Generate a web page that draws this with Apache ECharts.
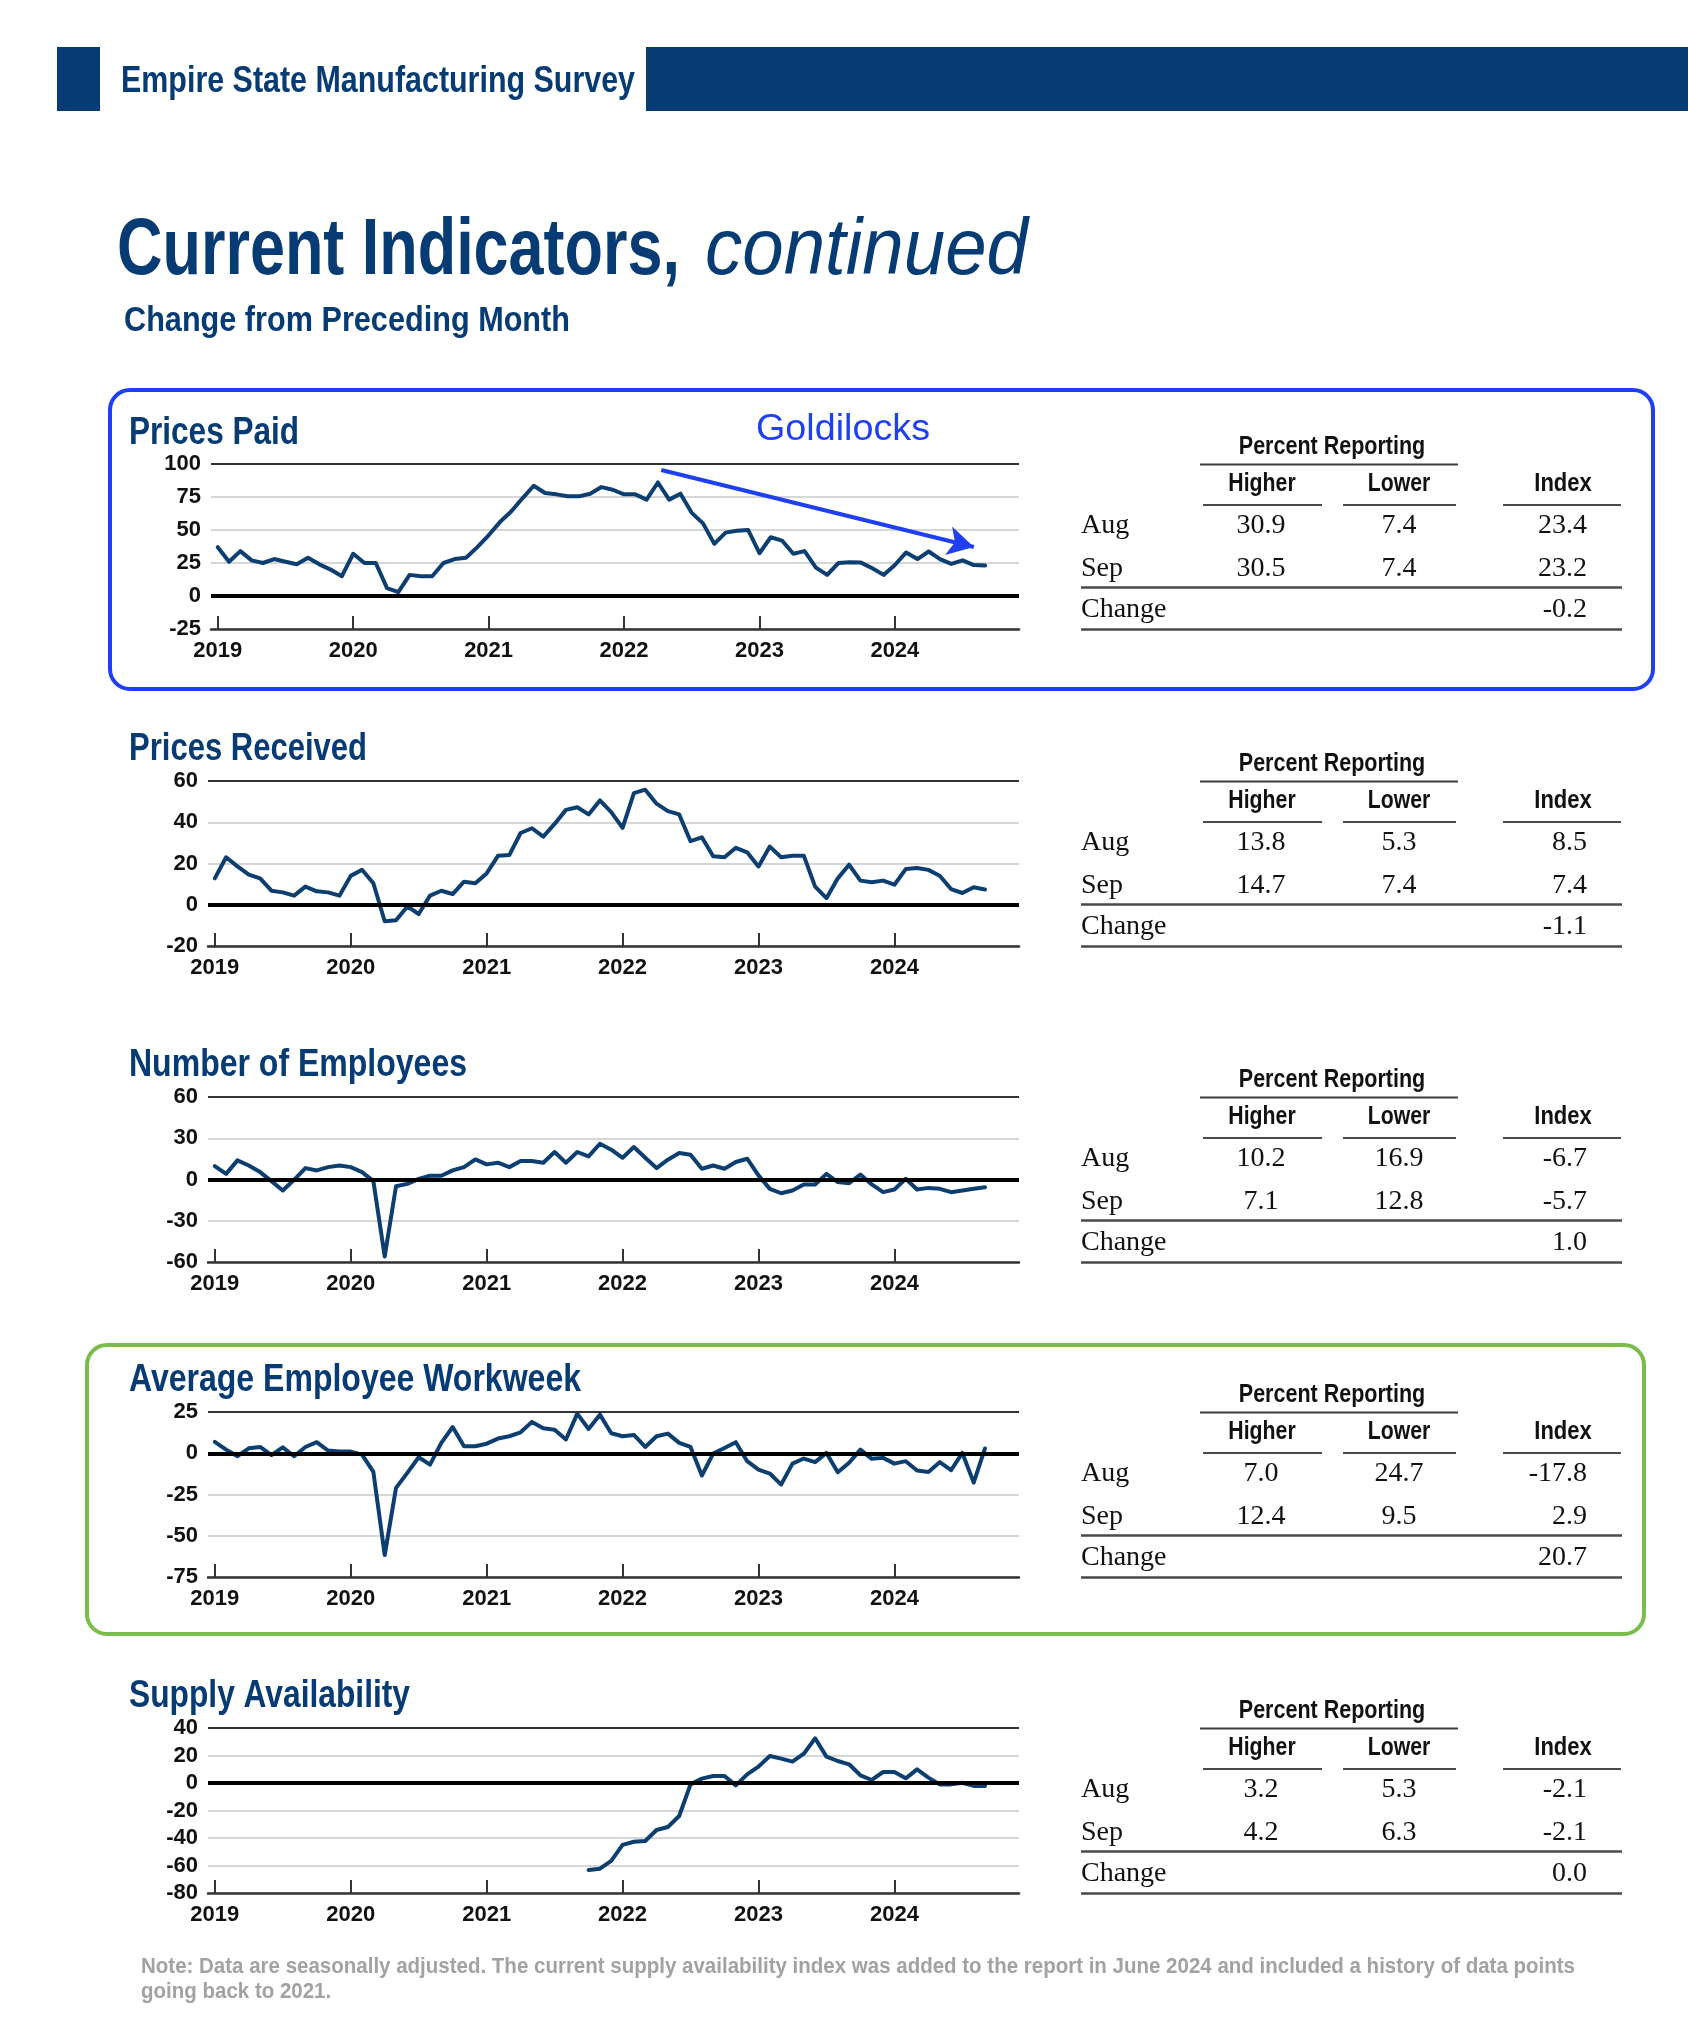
<!DOCTYPE html>
<html><head><meta charset="utf-8">
<script src="https://cdn.jsdelivr.net/npm/echarts@6/dist/echarts.min.js"></script>
<style>html,body{margin:0;padding:0;background:#fff;}#c{width:1688px;height:2025px;}</style>
</head><body><div id="c"></div>
<script>
// ---------------- DATA ----------------
const yearLabels = ['2019', '2020', '2021', '2022', '2023', '2024'];
const yearTickMonths = [0, 12, 24, 36, 48, 60]; // months since Jan 2019
const chartTitles = ['Prices Paid', 'Prices Received', 'Number of Employees', 'Average Employee Workweek', 'Supply Availability'];

// monthly index values, Jan 2019 .. Sep 2024
const pricesPaid = [37,26,34,27,25,28,26,24,29,24,20,15, 32,25,25,6,3,16,15,15,25,28,29,37,
  46,56,64,74,83.5,78,77,75.5,75.5,77.5,82.5,80.5, 77,77,73,86,73,77.5,63,55,39.5,48,49.5,50,
  32.4,44.5,42,32,34,21.5,16,25,25.5,25.3,21,16, 23.5,33,28,33.7,28,24.3,27,23.4,23.2];
const pricesReceived = [12.8,23,18.6,14.6,12.8,6.8,6,4.4,8.8,6.5,6,4.4, 14,17,10.4,-8,-7.5,-0.8,-4.5,4.4,6.8,5.2,11.2,10.4,
  15.2,23.7,24.1,34.8,37.1,33,39.2,46,47.3,43.8,50.6,44.9, 37.3,54.1,55.8,49,45.4,43.8,30.8,32.7,23.5,23,27.6,25.4,
  18.6,28.2,23,23.8,23.8,8.8,3.2,12.8,19.4,11.7,10.9,11.7, 9.7,17.3,17.8,16.9,14.1,7.6,5.7,8.5,7.4];
const numberOfEmployees = [9.7,4.1,13.9,10.2,5.4,-1.2,-8,-0.2,8.3,6.6,9,10.2, 9,5.4,-1.2,-56,-4.9,-3.2,0.5,2.7,2.7,6.6,9,14.6,
  11,12.2,9,13.4,13.4,12.2,20,12.2,20,16.8,26,21.7, 15.8,23.6,15.8,8.3,14.4,19.2,18,7.8,10.2,7.8,12.7,15.1,
  3,-6.8,-10,-8,-3.6,-3.6,4.1,-1.9,-2.7,3.6,-3.6,-9.2, -7.3,0.5,-7.3,-6.1,-6.8,-9.2,-8,-6.7,-5.7];
const avgWorkweek = [6.9,2.2,-1.8,3,3.8,-1.2,3.6,-1.8,3.8,6.7,1.6,1, 1,-0.8,-11.3,-61.7,-21,-11.9,-2.4,-6.9,6.3,15.9,4.2,4.2,
  5.8,8.9,10.3,12.7,19,15.1,14.3,8.3,24,14.7,23.4,12.1, 10.3,11.1,3.8,10.3,11.9,6.3,3.8,-13.5,-0.2,3.2,6.7,-4.8,
  -9.9,-12.3,-19,-6.3,-3.2,-5.4,0.2,-11.5,-5.8,2.2,-3.4,-2.8, -6.3,-4.8,-10.5,-11.3,-5.4,-10.3,0.2,-17.8,2.9];
const supplyStartMonth = 33; // Oct 2021
const supplyAvailability = [-63.3,-62.3,-56.7,-45,-42.7,-42.2,-34.2,-32,-24,-1, 3.2,5.1,5.1,-1.7,6.3,11.9,19.6,17.7,15.5,21.3,
  32.5,19.2,16,13.6,5.6,2.2,8,8,3.4,9.9, 3.9,-1,-1,0.2,-2.1,-2.1];

// y-axis ranges [min, max, interval]
const yRanges = [[-25, 100, 25], [-20, 60, 20], [-60, 60, 30], [-75, 25, 25], [-80, 40, 20]];

// tables
const tableRowLabels = ['Aug', 'Sep', 'Change'];
const tableHigher = [[30.9, 30.5], [13.8, 14.7], [10.2, 7.1], [7.0, 12.4], [3.2, 4.2]];
const tableLower = [[7.4, 7.4], [5.3, 7.4], [16.9, 12.8], [24.7, 9.5], [5.3, 6.3]];
const tableIndex = [[23.4, 23.2], [8.5, 7.4], [-6.7, -5.7], [-17.8, 2.9], [-2.1, -2.1]];
const tableChange = [-0.2, -1.1, 1.0, 20.7, 0.0];

// arrow annotation on Prices Paid, in data coordinates [month, value]
const arrowStart = [39.3, 95.5];
const arrowEnd = [67, 37.1];

// ---------------- LAYOUT ----------------
const NAVY = '#073b73';
const LINE = '#0c3e70';
const BLUE = '#1f40f2';
const GREEN = '#7bbd4c';
const SANS = '"Liberation Sans", Arial, sans-serif';
const SERIF = '"Liberation Serif", "Times New Roman", serif';
const chartTops = [464, 781, 1097, 1412, 1728];
const chartLefts = [211, 208, 208, 208, 208];
const titleCenters = [434, 750, 1066, 1381, 1697];
const titleWidths = [170, 238, 338, 452, 281];

const mctx = document.createElement('canvas').getContext('2d');
function fit(text, font, w) { mctx.font = font; return w / mctx.measureText(text).width; }
function txt(text, x, y, font, fill, align, scaleX) {
  return { type: 'text', x: x, y: y, scaleX: scaleX || 1, silent: true, z: 10,
    style: { text: text, x: 0, y: 0, font: font, fill: fill, align: align || 'left', textAlign: align || 'left',
      verticalAlign: 'middle', textVerticalAlign: 'middle' } };
}
function hline(x1, x2, y, color, w) {
  return { type: 'line', silent: true, z: 10, shape: { x1: x1, y1: y, x2: x2, y2: y }, style: { stroke: color, lineWidth: w } };
}

const els = [];
// header band
els.push({ type: 'rect', silent: true, shape: { x: 57, y: 47, width: 43, height: 64 }, style: { fill: NAVY } });
els.push({ type: 'rect', silent: true, shape: { x: 646, y: 47, width: 1042, height: 64 }, style: { fill: NAVY } });
let f = 'bold 36px ' + SANS;
els.push(txt('Empire State Manufacturing Survey', 121, 82, f, NAVY, 'left', fit('Empire State Manufacturing Survey', f, 514)));
f = 'bold 79px ' + SANS;
els.push(txt('Current Indicators,', 117, 252, f, NAVY, 'left', fit('Current Indicators,', f, 563)));
f = 'italic 79px ' + SANS;
els.push(txt('continued', 705, 252, f, NAVY, 'left', fit('continued', f, 323)));
f = 'bold 35px ' + SANS;
els.push(txt('Change from Preceding Month', 124, 321, f, NAVY, 'left', fit('Change from Preceding Month', f, 446)));

// highlight boxes
els.push({ type: 'rect', silent: true, z: 5, shape: { x: 110, y: 390, width: 1543, height: 299, r: 20 },
  style: { fill: 'none', stroke: BLUE, lineWidth: 4 } });
els.push({ type: 'rect', silent: true, z: 5, shape: { x: 87, y: 1345, width: 1557, height: 289, r: 20 },
  style: { fill: 'none', stroke: GREEN, lineWidth: 4 } });
els.push(txt('Goldilocks', 756, 430, '36px ' + SANS, BLUE, 'left', fit('Goldilocks', '36px ' + SANS, 174)));

// chart titles + tables
const HF = 'bold 25px ' + SANS;
const VF = '28px ' + SERIF;
for (let k = 0; k < 5; k++) {
  const tf = 'bold 38px ' + SANS;
  els.push(txt(chartTitles[k], 129, titleCenters[k], tf, NAVY, 'left', fit(chartTitles[k], tf, titleWidths[k])));
  const T = chartTops[k];
  els.push(txt('Percent Reporting', 1332, T - 17, HF, '#111', 'center', 0.86));
  els.push(hline(1200, 1458, T + 0.5, '#3c3c3c', 2));
  els.push(txt('Higher', 1262, T + 20, HF, '#111', 'center', 0.85));
  els.push(txt('Lower', 1399, T + 20, HF, '#111', 'center', 0.85));
  els.push(txt('Index', 1563, T + 20, HF, '#111', 'center', 0.88));
  els.push(hline(1203, 1322, T + 41, '#4a4a4a', 2));
  els.push(hline(1343, 1456, T + 41, '#4a4a4a', 2));
  els.push(hline(1503, 1621, T + 41, '#4a4a4a', 2));
  const rowY = [T + 62, T + 105, T + 146];
  for (let r = 0; r < 2; r++) {
    els.push(txt(tableRowLabels[r], 1081, rowY[r], VF, '#111', 'left'));
    els.push(txt(tableHigher[k][r].toFixed(1), 1261, rowY[r], VF, '#111', 'center'));
    els.push(txt(tableLower[k][r].toFixed(1), 1399, rowY[r], VF, '#111', 'center'));
    els.push(txt(tableIndex[k][r].toFixed(1), 1587, rowY[r], VF, '#111', 'right'));
  }
  els.push(txt(tableRowLabels[2], 1081, rowY[2], VF, '#111', 'left'));
  els.push(txt(tableChange[k].toFixed(1), 1587, rowY[2], VF, '#111', 'right'));
  els.push(hline(1081, 1622, T + 123.5, '#4a4a4a', 2.5));
  els.push(hline(1081, 1622, T + 165.5, '#4a4a4a', 2.5));
}

// note
const NF = 'bold 22px ' + SANS;
const note1 = 'Note: Data are seasonally adjusted. The current supply availability index was added to the report in June 2024 and included a history of data points';
const note2 = 'going back to 2021.';
const ns = fit(note1, NF, 1434);
els.push(txt(note1, 141, 1967, NF, '#a2a2a2', 'left', ns));
els.push(txt(note2, 141, 1992, NF, '#a2a2a2', 'left', ns));

// ---------------- CHARTS ----------------
const seriesData = [
  pricesPaid.map((v, i) => [i, v]),
  pricesReceived.map((v, i) => [i, v]),
  numberOfEmployees.map((v, i) => [i, v]),
  avgWorkweek.map((v, i) => [i, v]),
  supplyAvailability.map((v, i) => [supplyStartMonth + i, v])
];

const grids = [], xAxes = [], yAxes = [], series = [];
for (let k = 0; k < 5; k++) {
  grids.push({ left: chartLefts[k], width: 1019 - chartLefts[k], top: chartTops[k], height: 165, containLabel: false });
  xAxes.push({
    gridIndex: k, type: 'value', min: -0.6, max: 71, position: 'bottom',
    axisLine: { show: true, onZero: false, lineStyle: { color: '#333', width: 2.5 } },
    axisTick: { show: true, inside: true, length: 13, customValues: yearTickMonths, lineStyle: { color: '#333', width: 2 } },
    axisLabel: { show: true, customValues: yearTickMonths, margin: 11,
      formatter: function (v) { const i = yearTickMonths.indexOf(Math.round(v)); return i >= 0 ? yearLabels[i] : ''; },
      color: '#111', fontFamily: 'Liberation Sans', fontWeight: 'bold', fontSize: 22 },
    splitLine: { show: false }
  });
  const yr = yRanges[k];
  yAxes.push({
    gridIndex: k, type: 'value', min: yr[0], max: yr[1], interval: yr[2],
    axisLine: { show: false }, axisTick: { show: false },
    axisLabel: { margin: 10, color: '#111', fontFamily: 'Liberation Sans', fontWeight: 'bold', fontSize: 22, padding: [6, 0, 0, 0] },
    splitLine: { show: true, lineStyle: { color: '#d6d6d6', width: 2 } }
  });
  const ml = [
    { yAxis: yr[1], lineStyle: { color: '#333', width: 2, type: 'solid' } },
    { yAxis: 0, lineStyle: { color: '#000', width: 4, type: 'solid' } }
  ];
  if (k === 0) {
    ml.push([
      { coord: arrowStart, symbol: 'none', lineStyle: { color: BLUE, width: 4, type: 'solid' } },
      { coord: arrowEnd, symbol: 'arrow', symbolSize: [22, 26] }
    ]);
  }
  series.push({
    type: 'line', xAxisIndex: k, yAxisIndex: k, data: seriesData[k], symbol: 'none', showSymbol: false,
    lineStyle: { color: LINE, width: 4, join: 'round', cap: 'round' }, z: 3,
    emphasis: { disabled: true },
    markLine: { silent: true, symbol: ['none', 'none'], label: { show: false }, animation: false,
      emphasis: { disabled: true }, data: ml }
  });
}

const chart = echarts.init(document.getElementById('c'), null, { renderer: 'canvas' });
chart.setOption({
  animation: false,
  backgroundColor: '#fff',
  grid: grids, xAxis: xAxes, yAxis: yAxes, series: series,
  graphic: { elements: els }
});
</script>
</body></html>
